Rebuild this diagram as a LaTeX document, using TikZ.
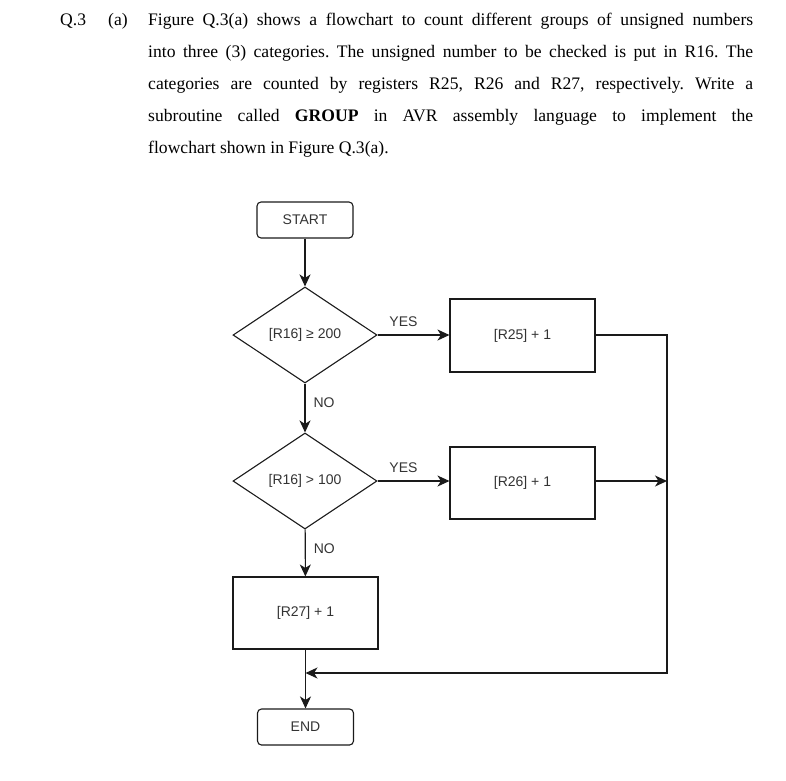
\documentclass[tikz,border=0pt]{standalone}
\usepackage{fontspec}
\setmainfont{Liberation Serif}
\newfontfamily\diagfont{Liberation Sans}
\usetikzlibrary{shapes.geometric,arrows.meta}
\definecolor{ink}{HTML}{1A1A1A}
\definecolor{dtext}{HTML}{333333}
\frenchspacing
\tikzset{
  para/.style={anchor=base west,inner sep=0pt,font=\fontsize{17.6}{32}\selectfont},
  shapeline/.style={draw=ink,line width=1.1pt},
  termbox/.style={shapeline,rounded corners=4pt,minimum width=96pt,minimum height=36pt,inner sep=0pt,
     font=\diagfont\fontsize{14}{16}\selectfont,text=dtext},
  procbox/.style={shapeline,minimum width=145pt,minimum height=72pt,inner sep=0pt,
     font=\diagfont\fontsize{14}{16}\selectfont,text=dtext},
  decbox/.style={shapeline,diamond,minimum width=144pt,minimum height=96pt,inner sep=0pt,
     font=\diagfont\fontsize{14}{16}\selectfont,text=dtext},
  flow/.style={draw=ink,line width=1.1pt,-{Stealth[length=12pt,width=11pt,inset=3.5pt]}},
  lab/.style={font=\diagfont\fontsize{14}{16}\selectfont,text=dtext,inner sep=0pt}
}
\begin{document}
\begin{tikzpicture}[x=1pt,y=-1pt]
\useasboundingbox (0,0) rectangle (786,780);
% question text
\node[para] (q) at (60,25) {Q.3};
\node[para] (qa) at (108,25) {(a)};
\node[para] (l1) at (148,25) {\makebox[605pt][s]{Figure Q.3(a) shows a flowchart to count different groups of unsigned numbers}};
\node[para] (l2) at (148,57) {\makebox[605pt][s]{into three (3) categories. The unsigned number to be checked is put in R16. The}};
\node[para] (l3) at (148,89) {\makebox[605pt][s]{categories are counted by registers R25, R26 and R27, respectively. Write a}};
\node[para] (l4) at (148,121) {\makebox[605pt][s]{subroutine called \textbf{GROUP} in AVR assembly language to implement the}};
\node[para] (l5) at (148,153) {flowchart shown in Figure Q.3(a).};
% flowchart
\node[termbox] (start) at (305,220) {START};
\node[decbox] (d1) at (305,335) {[R16] ≥ 200};
\node[procbox,minimum height=73pt] (b25) at (522.5,335.5) {[R25] + 1};
\node[decbox] (d2) at (305,481) {[R16] > 100};
\node[procbox] (b26) at (522.5,483) {[R26] + 1};
\node[procbox] (b27) at (305.5,613) {[R27] + 1};
\node[termbox] (end) at (305.5,727) {END};
\coordinate (rx) at (667,481);
\coordinate (m) at (305.5,673);
\draw[flow] (start) -- (d1);
\draw[flow] (d1.east) -- node[lab,above=8pt,pos=0.36] (y1) {YES} (d1.east -| b25.west);
\draw[flow] (d1) -- node[lab,right=8pt,pos=0.4] (n1) {NO} (d2);
\draw[flow] (d2.east) -- node[lab,above=8pt,pos=0.36] (y2) {YES} (d2.east -| b26.west);
\draw[flow] (d2) -- node[lab,right=8pt,pos=0.4] (n2) {NO} (b27);
\draw[flow] (b27) -- (end);
\draw[flow] (b26.east |- rx) -- (rx);
\draw[flow] (b25.east |- d1.east) -- (rx |- d1.east) -- (rx |- m) -- (m);
\end{tikzpicture}
\end{document}
